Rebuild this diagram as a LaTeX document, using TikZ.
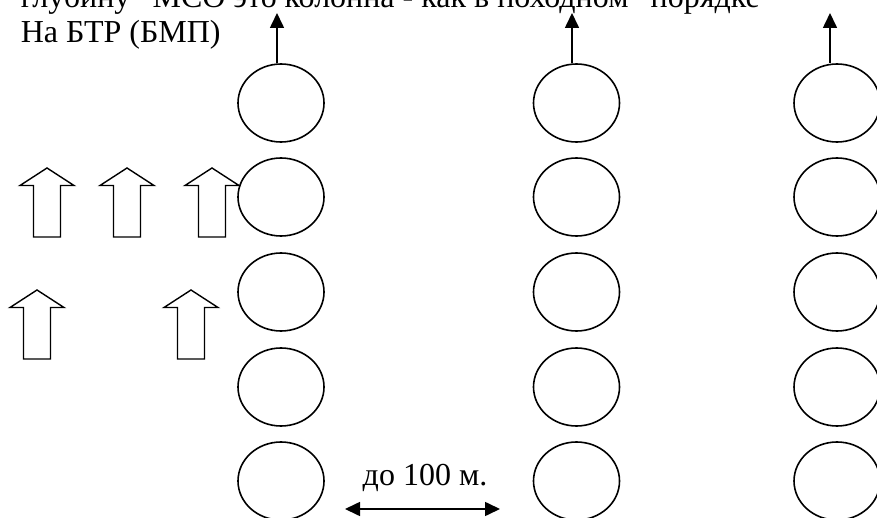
\documentclass[tikz,border=0pt]{standalone}
\usepackage{fontspec}
\setmainfont{Liberation Serif}
\usetikzlibrary{arrows.meta, shapes.geometric}

\tikzset{
  vehicle/.style={draw, ellipse, minimum width=86pt, minimum height=78pt, inner sep=0pt},
  caption/.style={anchor=base west, inner sep=0pt},
  marchup/.pic={\draw[line width=1.4pt] (0,0) -- (-27,17.5) -- (-13.5,17.5) -- (-13.5,69) -- (13.5,69) -- (13.5,17.5) -- (27,17.5) -- cycle;}
}

\begin{document}
\begin{tikzpicture}[x=1pt, y=-1pt, >={Triangle[length=15pt,width=14pt]}, line width=1.6pt, font=\fontsize{32}{38}\selectfont]
  \useasboundingbox (0,0) rectangle (877,518);

  % header text (cut at the top)
  \node[caption] (line1) at (20,8) {глубину "МСО это колонна - как в походном" порядке};
  \node[caption] (line2) at (20,43) {На БТР (БМП)};

  % three columns of vehicles
  \foreach \col/\x in {1/281, 2/576.5, 3/837}
    \foreach \row/\y in {1/103, 2/197, 3/292, 4/387, 5/481}
      \node[vehicle] (v\col\row) at (\x,\y) {};

  % direction of movement
  \coordinate (h1) at (277,13);
  \coordinate (h2) at (572,13);
  \coordinate (h3) at (830,13);
  \draw[->] (v11.north -| h1) -- (h1);
  \draw[->] (v21.north -| h2) -- (h2);
  \draw[->] (v31.north -| h3) -- (h3);

  % dismounted groups
  \pic (g1) at (47,168) {marchup};
  \pic (g2) at (127,168) {marchup};
  \pic (g3) at (212,168) {marchup};
  \pic (g4) at (37,290) {marchup};
  \pic (g5) at (191,290) {marchup};

  % interval between columns
  \coordinate (gapL) at (345,509);
  \coordinate (gapR) at (500,509);
  \draw[<->] (gapL) -- (gapR);
  \node[anchor=base] (dist) at (425,485) {до 100 м.};
\end{tikzpicture}
\end{document}
